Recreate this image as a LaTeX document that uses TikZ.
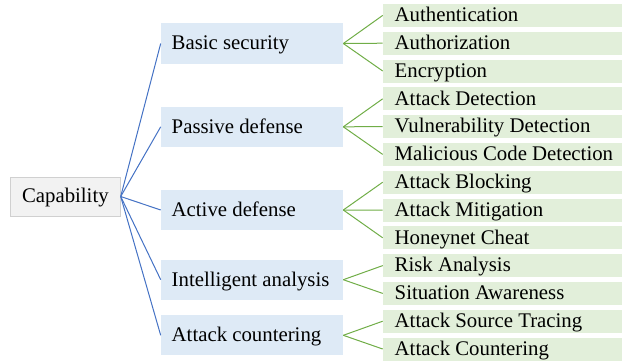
\documentclass[tikz,border=0pt]{standalone}
\usepackage{fontspec}
\setmainfont{Liberation Serif}
\definecolor{rootfill}{HTML}{F2F2F2}
\definecolor{rootline}{HTML}{D0D0D0}
\definecolor{bluefill}{HTML}{DEEAF6}
\definecolor{greenfill}{HTML}{E2EFDA}
\definecolor{blueline}{HTML}{4472C4}
\definecolor{greenline}{HTML}{70AD47}
% left-aligned single-line label of a fixed width
\newcommand\flushlabel[2]{\makebox[#1][l]{#2}}
\begin{document}
\begin{tikzpicture}[x=1bp, y=-1bp,
  every node/.style={font=\fontsize{20.8bp}{24bp}\selectfont, outer sep=0pt,
    text height=16bp, text depth=3.3bp},
  rootbox/.style={fill=rootfill, draw=rootline, line width=0.6bp,
    minimum width=110.7bp, minimum height=39bp, inner sep=0pt, anchor=west},
  catbox/.style={fill=bluefill, inner xsep=11bp, inner ysep=0pt,
    minimum height=40.3bp, anchor=west},
  itembox/.style={fill=greenfill, inner xsep=12bp, inner ysep=0pt,
    minimum height=23bp, anchor=west},
  bluelink/.style={draw=blueline, line width=1bp},
  greenlink/.style={draw=greenline, line width=1bp}]
\useasboundingbox (0,0) rectangle (622,363);

% root
\node[rootbox] (cap) at (10,196.5) {Capability};

% capability categories
\foreach \name/\yy/\txt in {
  b1/43.5/Basic security,
  b2/126.8/Passive defense,
  b3/210/Active defense,
  b4/279.7/Intelligent analysis,
  b5/335.3/Attack countering}
  \node[catbox] (\name) at (160.7,\yy) {\flushlabel{160.6bp}{\txt}};

% concrete capabilities
\foreach \i/\name/\txt in {
  0/g1/Authentication,
  1/g2/Authorization,
  2/g3/Encryption,
  3/g4/Attack Detection,
  4/g5/Vulnerability Detection,
  5/g6/Malicious Code Detection,
  6/g7/Attack Blocking,
  7/g8/Attack Mitigation,
  8/g9/Honeynet Cheat,
  9/g10/Risk Analysis,
  10/g11/Situation Awareness,
  11/g12/Attack Source Tracing,
  12/g13/Attack Countering}
  \node[itembox] (\name) at (382.7,{15.4+27.8*\i}) {\flushlabel{216bp}{\txt}};

% links from the root
\foreach \b in {b1,b2,b3,b4,b5}
  \draw[bluelink] (cap.east) -- (\b.west);

% links from the categories
\foreach \g in {g1,g2,g3} \draw[greenlink] (b1.east) -- (\g.west);
\foreach \g in {g4,g5,g6} \draw[greenlink] (b2.east) -- (\g.west);
\foreach \g in {g7,g8,g9} \draw[greenlink] (b3.east) -- (\g.west);
\foreach \g in {g10,g11} \draw[greenlink] (b4.east) -- (\g.west);
\foreach \g in {g12,g13} \draw[greenlink] (b5.east) -- (\g.west);
\end{tikzpicture}
\end{document}
